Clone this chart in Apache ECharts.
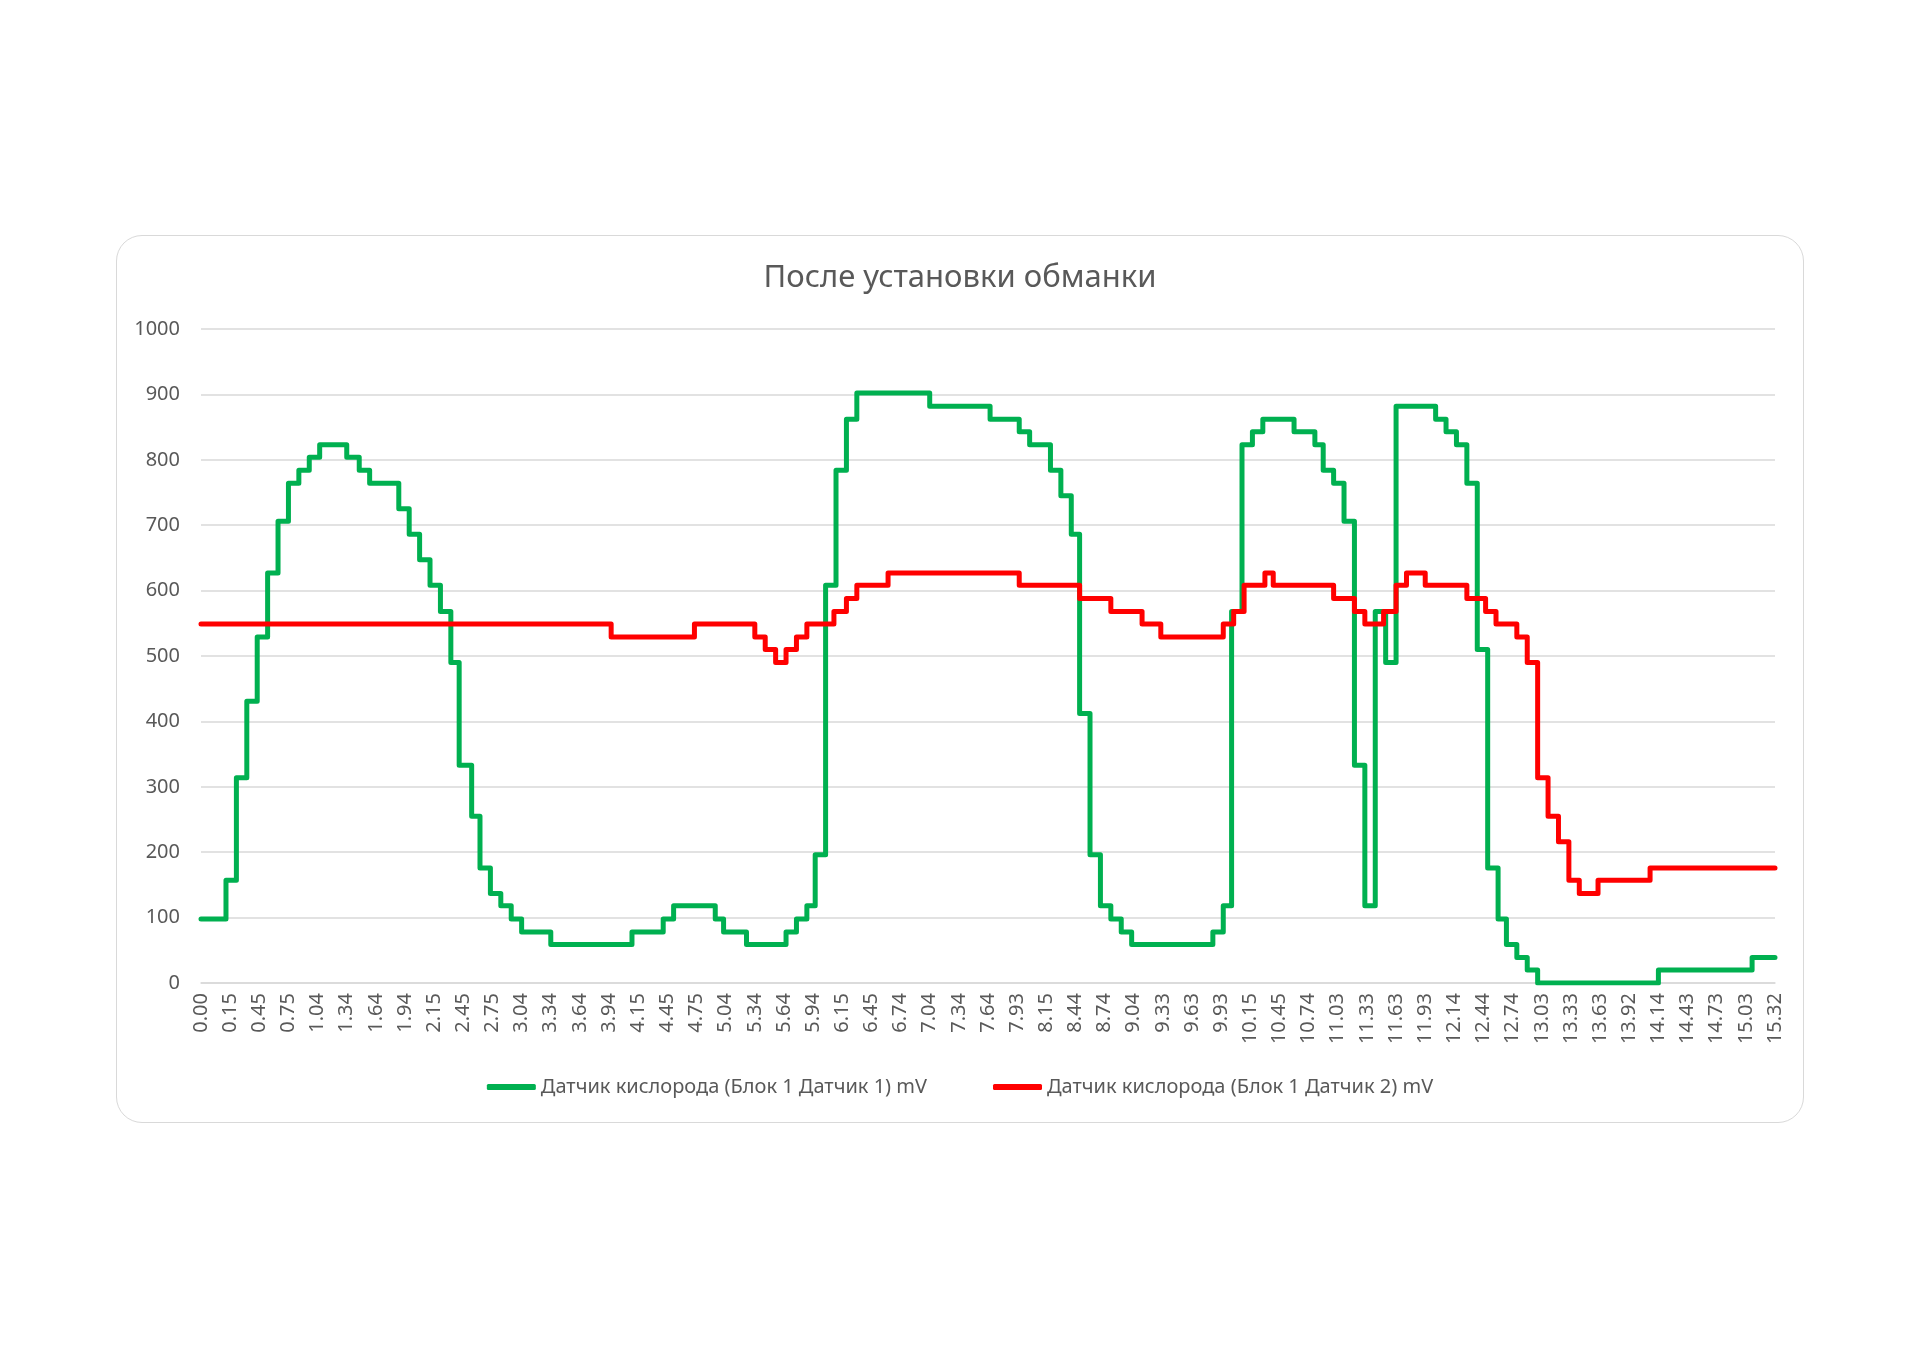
<!DOCTYPE html>
<html>
<head>
<meta charset="utf-8">
<script src="https://cdn.jsdelivr.net/npm/echarts@6/dist/echarts.min.js"></script>
<style>
  html, body { margin: 0; padding: 0; background: #ffffff; }
  #card { position: absolute; left: 116px; top: 235px; width: 1686px; height: 886px;
          border: 1.5px solid #d9d9d9; border-radius: 26px; background: #ffffff; }
  #chart { position: absolute; left: 0; top: 0; width: 1920px; height: 1358px; }
</style>
</head>
<body>
<div id="card"></div>
<div id="chart"></div>
<script>
// Tick labels of the category (time) axis, one every 14 samples
const tickLabels = ['0.00','0.15','0.45','0.75','1.04','1.34','1.64','1.94','2.15','2.45','2.75','3.04','3.34','3.64','3.94','4.15','4.45','4.75','5.04','5.34','5.64','5.94','6.15','6.45','6.74','7.04','7.34','7.64','7.93','8.15','8.44','8.74','9.04','9.33','9.63','9.93','10.15','10.45','10.74','11.03','11.33','11.63','11.93','12.14','12.44','12.74','13.03','13.33','13.63','13.92','14.14','14.43','14.73','15.03','15.32'];
const samplesPerLabel = 14;

const seriesNames = ['Датчик кислорода (Блок 1 Датчик 1) mV', 'Датчик кислорода (Блок 1 Датчик 2) mV'];

// [sample index where the reading changes, mV held from there on]
const sensor1 = [[0,98],[12,157],[17,314],[22,431],[27,529],[32,627],[37,706],[42,764],[47,784],[52,804],[57,823],[70,804],[76,784],[81,764],[95,725],[100,686],[105,647],[110,608],[115,568],[120,490],[124,333],[130,255],[134,176],[139,137],[144,118],[149,98],[154,78],[168,59],[207,78],[222,98],[227,118],[247,98],[251,78],[262,59],[281,78],[286,98],[291,118],[295,196],[300,608],[305,784],[310,862],[315,902],[350,882],[379,862],[393,843],[398,823],[408,784],[413,745],[418,686],[422,412],[427,196],[432,118],[437,98],[442,78],[447,59],[486,78],[491,118],[495,568],[500,823],[505,843],[510,862],[525,843],[535,823],[539,784],[544,764],[549,706],[554,333],[559,118],[564,568],[569,490],[574,882],[593,862],[598,843],[603,823],[608,764],[613,510],[618,176],[623,98],[627,59],[632,39],[637,20],[642,0],[700,20],[745,39],[756,39]];

const sensor2 = [[0,549],[197,529],[237,549],[266,529],[271,510],[276,490],[281,510],[286,529],[291,549],[304,568],[310,588],[315,608],[330,627],[393,608],[422,588],[437,568],[452,549],[461,529],[491,549],[496,568],[501,608],[511,627],[515,608],[544,588],[554,568],[559,549],[568,568],[574,608],[579,627],[588,608],[608,588],[617,568],[622,549],[632,529],[637,490],[642,314],[647,255],[652,216],[657,157],[662,137],[671,157],[696,176],[756,176]];

const lastSample = (tickLabels.length - 1) * samplesPerLabel;
const FONT = '"Noto Sans", "Open Sans", sans-serif';
const GREY = '#595959';

const chart = echarts.init(document.getElementById('chart'), null, { renderer: 'canvas' });
chart.setOption({
  backgroundColor: 'transparent',
  animation: false,
  title: {
    text: 'После установки обманки',
    left: 'center',
    top: 258,
    textStyle: { fontFamily: FONT, fontSize: 31, fontWeight: 'normal', color: GREY }
  },
  legend: {
    left: 'center',
    top: 1072,
    itemWidth: 49,
    itemHeight: 6,
    itemGap: 66,
    icon: 'roundRect',
    textStyle: { fontFamily: FONT, fontSize: 20, color: GREY },
    data: seriesNames
  },
  grid: { left: 201, right: 145, top: 329, bottom: 375, containLabel: false },
  xAxis: {
    type: 'value',
    min: 0,
    max: lastSample,
    interval: samplesPerLabel,
    axisLine: { show: true, lineStyle: { color: '#d9d9d9', width: 1.5 } },
    axisTick: { show: false },
    splitLine: { show: false },
    axisLabel: {
      rotate: 90,
      margin: 10,
      fontFamily: FONT,
      fontSize: 20,
      color: GREY,
      showMinLabel: true,
      showMaxLabel: true,
      formatter: v => tickLabels[Math.round(v / samplesPerLabel)]
    }
  },
  yAxis: {
    type: 'value',
    min: 0,
    max: 1000,
    interval: 100,
    axisLine: { show: false },
    axisTick: { show: false },
    splitLine: { lineStyle: { color: '#d9d9d9', width: 1.5 } },
    axisLabel: { margin: 21, fontFamily: FONT, fontSize: 20, color: GREY, formatter: v => String(v) }
  },
  series: [
    {
      name: seriesNames[0],
      type: 'line',
      step: 'end',
      data: sensor1,
      showSymbol: false,
      lineStyle: { color: '#00B050', width: 5, cap: 'round', join: 'round' },
      itemStyle: { color: '#00B050' },
      z: 3
    },
    {
      name: seriesNames[1],
      type: 'line',
      step: 'end',
      data: sensor2,
      showSymbol: false,
      lineStyle: { color: '#FF0000', width: 5, cap: 'round', join: 'round' },
      itemStyle: { color: '#FF0000' },
      z: 4
    }
  ]
});
</script>
</body>
</html>
